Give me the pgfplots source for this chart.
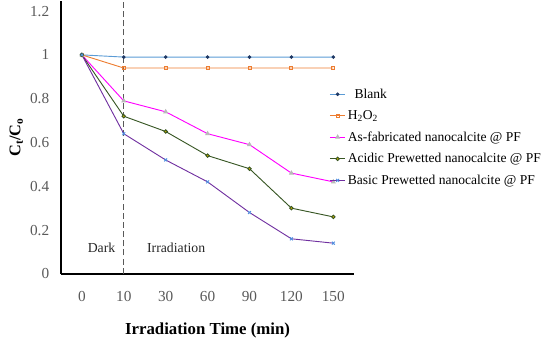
\documentclass[border={6pt 0pt 7pt 0pt}]{standalone}
\usepackage{pgfplots}
\pgfplotsset{compat=1.18}
\usepackage{fontspec}
\setmainfont{Liberation Serif}
\definecolor{cblank}{HTML}{5B9BD5}
\definecolor{cblankm}{HTML}{1F3864}
\definecolor{ch2o2}{HTML}{ED7D31}
\definecolor{casf}{HTML}{FF00FF}
\definecolor{cacid}{HTML}{375623}
\definecolor{cacidm}{HTML}{C9A800}
\definecolor{cbasic}{HTML}{7030A0}
\definecolor{cbasicm}{HTML}{4F8FE0}
\definecolor{ctick}{HTML}{595959}
\begin{document}
\begin{tikzpicture}
\begin{axis}[
  scale only axis,
  width=288pt, height=268pt,
  xmin=-0.5, xmax=6.5,
  ymin=0, ymax=1.247,
  axis lines=left,
  axis line style={line width=1.6pt, -},
  xtick={0,1,2,3,4,5,6},
  xticklabels={0,10,30,60,90,120,150},
  ytick={0,0.2,0.4,0.6,0.8,1,1.2},
  yticklabels={0,0.2,0.4,0.6,0.8,1,1.2},
  major tick length=0pt,
  tick label style={font=\fontsize{15}{17}\selectfont, text=ctick},
  xticklabel style={yshift=-14pt},
  yticklabel style={xshift=-8pt},
  xlabel={\textbf{Irradiation Time (min)}},
  xlabel style={font=\fontsize{16.5}{19}\selectfont, yshift=-14pt},
  ylabel={\textbf{C\textsubscript{t}/C\textsubscript{o}}},
  ylabel style={font=\fontsize{16}{19}\selectfont, yshift=0pt},
  clip=false,
  legend style={draw=none, fill=none, at={(rel axis cs:0.915,0.686)}, anchor=north west,
    font=\fontsize{13.3}{15}\selectfont, row sep=6.5pt, inner sep=0pt},
  legend cell align=left,
  legend image code/.code={\draw[#1] (0pt,0pt) -- (15pt,0pt); \draw[#1, only marks] plot coordinates {(7.5pt,0pt)};},
]
\draw[dashed, color=gray!70!black, line width=0.7pt, dash pattern=on 6pt off 3pt] (axis cs:1,0) -- (axis cs:1,1.247);
\node[font=\fontsize{13.5}{15}\selectfont, text=black!85] at (axis cs:0.47,0.12) {Dark};
\node[font=\fontsize{13.5}{15}\selectfont, text=black!85] at (axis cs:2.25,0.12) {Irradiation};
\addplot[color=cblank, line width=0.9pt, mark=*, mark size=1.3pt, mark options={fill=cblankm, draw=cblankm}]
  coordinates {(0,1) (1,0.99) (2,0.99) (3,0.99) (4,0.99) (5,0.99) (6,0.99)};
\addlegendentry{\ \ Blank}
\addplot[color=ch2o2, line width=0.9pt, mark=square, mark size=1.5pt, mark options={draw=ch2o2, fill=white}]
  coordinates {(0,1) (1,0.94) (2,0.94) (3,0.94) (4,0.94) (5,0.94) (6,0.94)};
\addlegendentry{H\textsubscript{2}O\textsubscript{2}}
\addplot[color=casf, line width=0.9pt, mark=triangle*, mark size=2pt, mark options={fill=gray!55, draw=gray!55}]
  coordinates {(0,1) (1,0.79) (2,0.74) (3,0.64) (4,0.59) (5,0.46) (6,0.42)};
\addlegendentry{As-fabricated nanocalcite @ PF}
\addplot[color=cacid, line width=0.9pt, mark=*, mark size=1.7pt, mark options={fill=cacidm, draw=cacid}]
  coordinates {(0,1) (1,0.72) (2,0.65) (3,0.54) (4,0.48) (5,0.30) (6,0.26)};
\addlegendentry{Acidic Prewetted nanocalcite @ PF}
\addplot[color=cbasic, line width=0.9pt, mark=x, mark size=2pt, mark options={draw=cbasicm, line width=0.9pt}]
  coordinates {(0,1) (1,0.64) (2,0.52) (3,0.42) (4,0.28) (5,0.16) (6,0.14)};
\addlegendentry{Basic Prewetted nanocalcite @ PF}
\end{axis}
\end{tikzpicture}
\end{document}
